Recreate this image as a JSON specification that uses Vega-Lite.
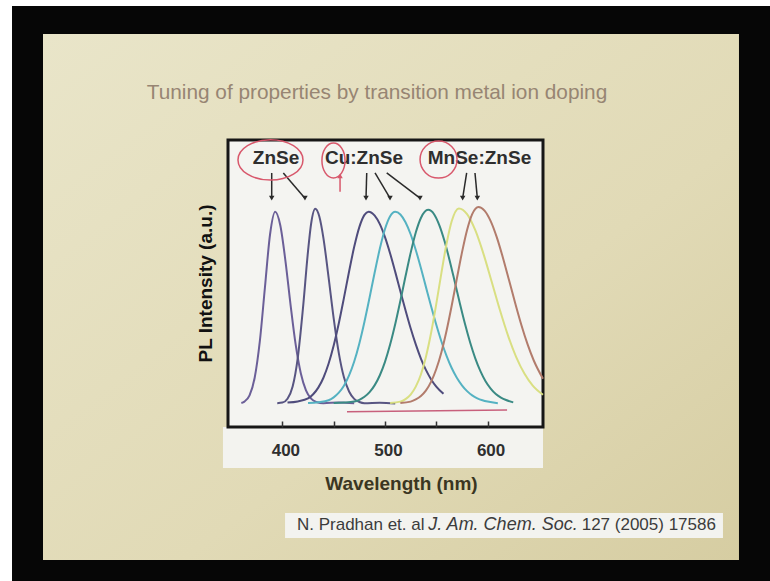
{
  "$schema": "https://vega.github.io/schema/vega-lite/v6.json",
  "width": 315,
  "height": 287,
  "autosize": {"type": "none"},
  "padding": {"left": 228, "top": 140, "right": 227, "bottom": 154},
  "background": "#ffffff",
  "config": {"view": {"stroke": null}, "font": "Liberation Sans"},
  "datasets": {
    "bg": [
      {"part": "outer", "wl": 136.5, "wl2": 904.5, "v": 2.051, "v2": -1.012},
      {"part": "slide", "wl": 166.7, "wl2": 845.0, "v": 1.907, "v2": -0.806},
      {"part": "panel", "wl": 342.1, "wl2": 654, "v": -0.12, "v2": -0.331},
      {"part": "panel", "wl": 402.6, "wl2": 829.4, "v": -0.5635, "v2": -0.692},
      {"part": "frame", "wl": 347, "wl2": 654, "v": -0.12, "v2": 1.36}
    ],
    "heading": [
      {"t": "Tuning of properties by transition metal ion doping", "wl": 492.2, "v": 1.6024}
    ],
    "underline": [
      {"wl": 463, "v": -0.041},
      {"wl": 619, "v": -0.032}
    ],
    "curves": [
      {"s": "ZnSe-1", "wl": 360, "v": 0.004}, {"s": "ZnSe-1", "wl": 363, "v": 0.011}, {"s": "ZnSe-1", "wl": 368, "v": 0.043}, {"s": "ZnSe-1", "wl": 373, "v": 0.134}, {"s": "ZnSe-1", "wl": 378, "v": 0.321}, {"s": "ZnSe-1", "wl": 383, "v": 0.600}, {"s": "ZnSe-1", "wl": 388, "v": 0.874}, {"s": "ZnSe-1", "wl": 393, "v": 0.990}, {"s": "ZnSe-1", "wl": 398, "v": 0.919}, {"s": "ZnSe-1", "wl": 403, "v": 0.736}, {"s": "ZnSe-1", "wl": 408, "v": 0.509}, {"s": "ZnSe-1", "wl": 413, "v": 0.303}, {"s": "ZnSe-1", "wl": 418, "v": 0.156}, {"s": "ZnSe-1", "wl": 423, "v": 0.069}, {"s": "ZnSe-1", "wl": 428, "v": 0.026}, {"s": "ZnSe-1", "wl": 433, "v": 0.009}, {"s": "ZnSe-1", "wl": 440, "v": 0.003}, {"s": "ZnSe-1", "wl": 455, "v": 0.006}, {"s": "ZnSe-1", "wl": 470, "v": 0.002},
      {"s": "ZnSe-2", "wl": 395, "v": 0.003}, {"s": "ZnSe-2", "wl": 400, "v": 0.006}, {"s": "ZnSe-2", "wl": 405, "v": 0.026}, {"s": "ZnSe-2", "wl": 410, "v": 0.089}, {"s": "ZnSe-2", "wl": 415, "v": 0.237}, {"s": "ZnSe-2", "wl": 420, "v": 0.489}, {"s": "ZnSe-2", "wl": 425, "v": 0.787}, {"s": "ZnSe-2", "wl": 428, "v": 0.928}, {"s": "ZnSe-2", "wl": 432, "v": 1.005}, {"s": "ZnSe-2", "wl": 436, "v": 0.965}, {"s": "ZnSe-2", "wl": 440, "v": 0.854}, {"s": "ZnSe-2", "wl": 445, "v": 0.653}, {"s": "ZnSe-2", "wl": 450, "v": 0.440}, {"s": "ZnSe-2", "wl": 455, "v": 0.261}, {"s": "ZnSe-2", "wl": 460, "v": 0.136}, {"s": "ZnSe-2", "wl": 465, "v": 0.063}, {"s": "ZnSe-2", "wl": 470, "v": 0.025}, {"s": "ZnSe-2", "wl": 475, "v": 0.009}, {"s": "ZnSe-2", "wl": 480, "v": 0.003}, {"s": "ZnSe-2", "wl": 495, "v": 0.005}, {"s": "ZnSe-2", "wl": 510, "v": 0.001},
      {"s": "Cu:ZnSe-1", "wl": 405, "v": 0.006}, {"s": "Cu:ZnSe-1", "wl": 415, "v": 0.012}, {"s": "Cu:ZnSe-1", "wl": 425, "v": 0.027}, {"s": "Cu:ZnSe-1", "wl": 430, "v": 0.049}, {"s": "Cu:ZnSe-1", "wl": 435, "v": 0.083}, {"s": "Cu:ZnSe-1", "wl": 440, "v": 0.134}, {"s": "Cu:ZnSe-1", "wl": 445, "v": 0.206}, {"s": "Cu:ZnSe-1", "wl": 450, "v": 0.300}, {"s": "Cu:ZnSe-1", "wl": 455, "v": 0.415}, {"s": "Cu:ZnSe-1", "wl": 460, "v": 0.546}, {"s": "Cu:ZnSe-1", "wl": 465, "v": 0.682}, {"s": "Cu:ZnSe-1", "wl": 470, "v": 0.809}, {"s": "Cu:ZnSe-1", "wl": 475, "v": 0.911}, {"s": "Cu:ZnSe-1", "wl": 480, "v": 0.974}, {"s": "Cu:ZnSe-1", "wl": 484, "v": 0.990}, {"s": "Cu:ZnSe-1", "wl": 490, "v": 0.970}, {"s": "Cu:ZnSe-1", "wl": 495, "v": 0.926}, {"s": "Cu:ZnSe-1", "wl": 500, "v": 0.859}, {"s": "Cu:ZnSe-1", "wl": 505, "v": 0.775}, {"s": "Cu:ZnSe-1", "wl": 510, "v": 0.680}, {"s": "Cu:ZnSe-1", "wl": 515, "v": 0.580}, {"s": "Cu:ZnSe-1", "wl": 520, "v": 0.482}, {"s": "Cu:ZnSe-1", "wl": 525, "v": 0.389}, {"s": "Cu:ZnSe-1", "wl": 530, "v": 0.306}, {"s": "Cu:ZnSe-1", "wl": 535, "v": 0.233}, {"s": "Cu:ZnSe-1", "wl": 540, "v": 0.173}, {"s": "Cu:ZnSe-1", "wl": 545, "v": 0.125}, {"s": "Cu:ZnSe-1", "wl": 550, "v": 0.088}, {"s": "Cu:ZnSe-1", "wl": 557, "v": 0.051},
      {"s": "Cu:ZnSe-2", "wl": 425, "v": 0.004}, {"s": "Cu:ZnSe-2", "wl": 435, "v": 0.008}, {"s": "Cu:ZnSe-2", "wl": 445, "v": 0.018}, {"s": "Cu:ZnSe-2", "wl": 450, "v": 0.033}, {"s": "Cu:ZnSe-2", "wl": 455, "v": 0.057}, {"s": "Cu:ZnSe-2", "wl": 460, "v": 0.093}, {"s": "Cu:ZnSe-2", "wl": 465, "v": 0.146}, {"s": "Cu:ZnSe-2", "wl": 470, "v": 0.218}, {"s": "Cu:ZnSe-2", "wl": 475, "v": 0.311}, {"s": "Cu:ZnSe-2", "wl": 480, "v": 0.423}, {"s": "Cu:ZnSe-2", "wl": 485, "v": 0.548}, {"s": "Cu:ZnSe-2", "wl": 490, "v": 0.678}, {"s": "Cu:ZnSe-2", "wl": 495, "v": 0.800}, {"s": "Cu:ZnSe-2", "wl": 500, "v": 0.901}, {"s": "Cu:ZnSe-2", "wl": 505, "v": 0.967}, {"s": "Cu:ZnSe-2", "wl": 510, "v": 0.990}, {"s": "Cu:ZnSe-2", "wl": 515, "v": 0.976}, {"s": "Cu:ZnSe-2", "wl": 520, "v": 0.936}, {"s": "Cu:ZnSe-2", "wl": 525, "v": 0.874}, {"s": "Cu:ZnSe-2", "wl": 530, "v": 0.793}, {"s": "Cu:ZnSe-2", "wl": 535, "v": 0.700}, {"s": "Cu:ZnSe-2", "wl": 540, "v": 0.600}, {"s": "Cu:ZnSe-2", "wl": 545, "v": 0.501}, {"s": "Cu:ZnSe-2", "wl": 550, "v": 0.407}, {"s": "Cu:ZnSe-2", "wl": 555, "v": 0.321}, {"s": "Cu:ZnSe-2", "wl": 560, "v": 0.247}, {"s": "Cu:ZnSe-2", "wl": 565, "v": 0.184}, {"s": "Cu:ZnSe-2", "wl": 570, "v": 0.134}, {"s": "Cu:ZnSe-2", "wl": 575, "v": 0.095}, {"s": "Cu:ZnSe-2", "wl": 580, "v": 0.065}, {"s": "Cu:ZnSe-2", "wl": 585, "v": 0.043}, {"s": "Cu:ZnSe-2", "wl": 590, "v": 0.028}, {"s": "Cu:ZnSe-2", "wl": 595, "v": 0.018}, {"s": "Cu:ZnSe-2", "wl": 600, "v": 0.011}, {"s": "Cu:ZnSe-2", "wl": 610, "v": 0.003},
      {"s": "Cu:ZnSe-3", "wl": 450, "v": 0.004}, {"s": "Cu:ZnSe-3", "wl": 460, "v": 0.006}, {"s": "Cu:ZnSe-3", "wl": 470, "v": 0.011}, {"s": "Cu:ZnSe-3", "wl": 475, "v": 0.020}, {"s": "Cu:ZnSe-3", "wl": 480, "v": 0.036}, {"s": "Cu:ZnSe-3", "wl": 485, "v": 0.060}, {"s": "Cu:ZnSe-3", "wl": 490, "v": 0.096}, {"s": "Cu:ZnSe-3", "wl": 495, "v": 0.147}, {"s": "Cu:ZnSe-3", "wl": 500, "v": 0.216}, {"s": "Cu:ZnSe-3", "wl": 505, "v": 0.305}, {"s": "Cu:ZnSe-3", "wl": 510, "v": 0.411}, {"s": "Cu:ZnSe-3", "wl": 515, "v": 0.531}, {"s": "Cu:ZnSe-3", "wl": 520, "v": 0.657}, {"s": "Cu:ZnSe-3", "wl": 525, "v": 0.778}, {"s": "Cu:ZnSe-3", "wl": 530, "v": 0.883}, {"s": "Cu:ZnSe-3", "wl": 535, "v": 0.958}, {"s": "Cu:ZnSe-3", "wl": 542, "v": 1.0}, {"s": "Cu:ZnSe-3", "wl": 548, "v": 0.976}, {"s": "Cu:ZnSe-3", "wl": 553, "v": 0.920}, {"s": "Cu:ZnSe-3", "wl": 558, "v": 0.839}, {"s": "Cu:ZnSe-3", "wl": 563, "v": 0.739}, {"s": "Cu:ZnSe-3", "wl": 568, "v": 0.629}, {"s": "Cu:ZnSe-3", "wl": 573, "v": 0.517}, {"s": "Cu:ZnSe-3", "wl": 578, "v": 0.411}, {"s": "Cu:ZnSe-3", "wl": 583, "v": 0.316}, {"s": "Cu:ZnSe-3", "wl": 588, "v": 0.234}, {"s": "Cu:ZnSe-3", "wl": 593, "v": 0.168}, {"s": "Cu:ZnSe-3", "wl": 598, "v": 0.116}, {"s": "Cu:ZnSe-3", "wl": 603, "v": 0.078}, {"s": "Cu:ZnSe-3", "wl": 608, "v": 0.050}, {"s": "Cu:ZnSe-3", "wl": 613, "v": 0.032}, {"s": "Cu:ZnSe-3", "wl": 618, "v": 0.019}, {"s": "Cu:ZnSe-3", "wl": 625, "v": 0.007},
      {"s": "MnSe:ZnSe-1", "wl": 505, "v": 0.004}, {"s": "MnSe:ZnSe-1", "wl": 515, "v": 0.011}, {"s": "MnSe:ZnSe-1", "wl": 520, "v": 0.024}, {"s": "MnSe:ZnSe-1", "wl": 525, "v": 0.047}, {"s": "MnSe:ZnSe-1", "wl": 530, "v": 0.088}, {"s": "MnSe:ZnSe-1", "wl": 535, "v": 0.151}, {"s": "MnSe:ZnSe-1", "wl": 540, "v": 0.244}, {"s": "MnSe:ZnSe-1", "wl": 545, "v": 0.367}, {"s": "MnSe:ZnSe-1", "wl": 550, "v": 0.515}, {"s": "MnSe:ZnSe-1", "wl": 555, "v": 0.675}, {"s": "MnSe:ZnSe-1", "wl": 560, "v": 0.825}, {"s": "MnSe:ZnSe-1", "wl": 565, "v": 0.941}, {"s": "MnSe:ZnSe-1", "wl": 572, "v": 1.007}, {"s": "MnSe:ZnSe-1", "wl": 580, "v": 0.978}, {"s": "MnSe:ZnSe-1", "wl": 588, "v": 0.895}, {"s": "MnSe:ZnSe-1", "wl": 596, "v": 0.773}, {"s": "MnSe:ZnSe-1", "wl": 604, "v": 0.629}, {"s": "MnSe:ZnSe-1", "wl": 612, "v": 0.483}, {"s": "MnSe:ZnSe-1", "wl": 620, "v": 0.350}, {"s": "MnSe:ZnSe-1", "wl": 628, "v": 0.239}, {"s": "MnSe:ZnSe-1", "wl": 636, "v": 0.154}, {"s": "MnSe:ZnSe-1", "wl": 644, "v": 0.093}, {"s": "MnSe:ZnSe-1", "wl": 654, "v": 0.046},
      {"s": "MnSe:ZnSe-2", "wl": 515, "v": 0.004}, {"s": "MnSe:ZnSe-2", "wl": 525, "v": 0.011}, {"s": "MnSe:ZnSe-2", "wl": 530, "v": 0.022}, {"s": "MnSe:ZnSe-2", "wl": 535, "v": 0.040}, {"s": "MnSe:ZnSe-2", "wl": 540, "v": 0.069}, {"s": "MnSe:ZnSe-2", "wl": 545, "v": 0.114}, {"s": "MnSe:ZnSe-2", "wl": 550, "v": 0.179}, {"s": "MnSe:ZnSe-2", "wl": 555, "v": 0.266}, {"s": "MnSe:ZnSe-2", "wl": 560, "v": 0.376}, {"s": "MnSe:ZnSe-2", "wl": 565, "v": 0.505}, {"s": "MnSe:ZnSe-2", "wl": 570, "v": 0.644}, {"s": "MnSe:ZnSe-2", "wl": 575, "v": 0.779}, {"s": "MnSe:ZnSe-2", "wl": 580, "v": 0.896}, {"s": "MnSe:ZnSe-2", "wl": 585, "v": 0.978}, {"s": "MnSe:ZnSe-2", "wl": 591, "v": 1.015}, {"s": "MnSe:ZnSe-2", "wl": 597, "v": 0.996}, {"s": "MnSe:ZnSe-2", "wl": 603, "v": 0.942}, {"s": "MnSe:ZnSe-2", "wl": 609, "v": 0.858}, {"s": "MnSe:ZnSe-2", "wl": 615, "v": 0.752}, {"s": "MnSe:ZnSe-2", "wl": 621, "v": 0.635}, {"s": "MnSe:ZnSe-2", "wl": 627, "v": 0.517}, {"s": "MnSe:ZnSe-2", "wl": 633, "v": 0.405}, {"s": "MnSe:ZnSe-2", "wl": 639, "v": 0.306}, {"s": "MnSe:ZnSe-2", "wl": 645, "v": 0.223}, {"s": "MnSe:ZnSe-2", "wl": 654, "v": 0.129}
    ],
    "arrows": [
      {"kind": "black", "wl": 389.6, "v": 1.19, "wl2": 389.6, "v2": 1.06},
      {"kind": "black", "wl": 400.9, "v": 1.19, "wl2": 422.0, "v2": 1.06},
      {"kind": "black", "wl": 482.2, "v": 1.19, "wl2": 481.5, "v2": 1.06},
      {"kind": "black", "wl": 490.3, "v": 1.19, "wl2": 504.9, "v2": 1.06},
      {"kind": "black", "wl": 501.7, "v": 1.19, "wl2": 534.1, "v2": 1.06},
      {"kind": "black", "wl": 579.6, "v": 1.19, "wl2": 575.7, "v2": 1.06},
      {"kind": "black", "wl": 587.7, "v": 1.19, "wl2": 590.0, "v2": 1.06},
      {"kind": "red", "wl": 456.2, "v": 1.093, "wl2": 456.2, "v2": 1.171}
    ],
    "heads": [
      {"kind": "black", "wl": 389.6, "v": 1.06},
      {"kind": "black", "wl": 422.0, "v": 1.06},
      {"kind": "black", "wl": 481.5, "v": 1.06},
      {"kind": "black", "wl": 504.9, "v": 1.06},
      {"kind": "black", "wl": 534.1, "v": 1.06},
      {"kind": "black", "wl": 575.7, "v": 1.06},
      {"kind": "black", "wl": 590.0, "v": 1.06},
      {"kind": "red", "wl": 456.2, "v": 1.175}
    ],
    "labels": [
      {"t": "ZnSe", "wl": 393.8, "v": 1.267},
      {"t": "Cu:ZnSe", "wl": 479.5, "v": 1.267},
      {"t": "MnSe:ZnSe", "wl": 592.1, "v": 1.267}
    ],
    "circles": [
      {"c": "ZnSe", "wl": 388.4, "v": 1.257},
      {"c": "Cu", "wl": 449.8, "v": 1.254},
      {"c": "MnSe", "wl": 552.2, "v": 1.259}
    ],
    "cite": [
      {"t": "N. Pradhan et. al", "style": "normal", "wl": 414.2, "v": -0.625},
      {"t": "J. Am. Chem. Soc.", "style": "italic", "wl": 542.2, "v": -0.625},
      {"t": "127 (2005) 17586", "style": "normal", "wl": 691.7, "v": -0.625}
    ]
  },
  "encoding": {
    "x": {
      "field": "wl", "type": "quantitative", "title": "Wavelength (nm)",
      "scale": {"domain": [347, 654], "nice": false, "zero": false},
      "axis": {
        "values": [400, 450, 500, 550, 600],
        "labelExpr": "datum.value % 100 === 0 ? datum.label : ''",
        "domain": false, "grid": false, "offset": -6,
        "ticks": true, "tickSize": 6, "tickColor": "#333333", "tickWidth": 1.5,
        "labelFontSize": 17, "labelFontWeight": "bold", "labelColor": "#2f2f2f",
        "labelPadding": 15, "labelOffset": 3,
        "titleFontSize": 19, "titleFontWeight": "bold", "titleColor": "#3a3622",
        "titleX": 173, "titleY": 62, "titleBaseline": "middle", "titleAlign": "center",
        "zindex": 1
      }
    },
    "y": {
      "field": "v", "type": "quantitative", "title": "PL Intensity (a.u.)",
      "scale": {"domain": [-0.12, 1.36], "nice": false, "zero": false},
      "axis": {
        "labels": false, "ticks": false, "domain": false, "grid": false,
        "titleFontSize": 19, "titleFontWeight": "bold", "titleColor": "#111111",
        "titleX": -23, "titleY": 143, "titleAngle": 270, "titleBaseline": "middle", "titleAlign": "center",
        "zindex": 1
      }
    }
  },
  "layer": [
    {"data": {"name": "bg"}, "transform": [{"filter": "datum.part === 'outer'"}],
     "mark": {"type": "rect", "fill": "#060606"},
     "encoding": {"x2": {"field": "wl2"}, "y2": {"field": "v2"}}},
    {"data": {"name": "bg"}, "transform": [{"filter": "datum.part === 'slide'"}],
     "mark": {"type": "rect", "fill": {"gradient": "linear", "x1": 0, "y1": 0, "x2": 1, "y2": 1,
       "stops": [{"offset": 0, "color": "#e9e5c9"}, {"offset": 0.6, "color": "#e1dab6"}, {"offset": 1, "color": "#d6cda2"}]}},
     "encoding": {"x2": {"field": "wl2"}, "y2": {"field": "v2"}}},
    {"data": {"name": "bg"}, "transform": [{"filter": "datum.part === 'panel'"}],
     "mark": {"type": "rect", "fill": "#f3f3ef"},
     "encoding": {"x2": {"field": "wl2"}, "y2": {"field": "v2"}}},
    {"data": {"name": "bg"}, "transform": [{"filter": "datum.part === 'frame'"}],
     "mark": {"type": "rect", "fill": "#f4f4f1", "stroke": "#161616", "strokeWidth": 3},
     "encoding": {"x2": {"field": "wl2"}, "y2": {"field": "v2"}}},
    {"data": {"name": "heading"},
     "mark": {"type": "text", "font": "Liberation Sans", "fontSize": 20.8, "color": "#978573", "align": "center", "baseline": "middle"},
     "encoding": {"text": {"field": "t"}}},
    {"data": {"name": "underline"},
     "mark": {"type": "line", "color": "#c8607c", "strokeWidth": 1.5},
     "encoding": {}},
    {"data": {"name": "curves"},
     "mark": {"type": "line", "interpolate": "monotone", "strokeWidth": 2},
     "encoding": {
       "color": {"field": "s", "type": "nominal", "legend": null,
         "scale": {"domain": ["ZnSe-1", "ZnSe-2", "Cu:ZnSe-1", "Cu:ZnSe-2", "Cu:ZnSe-3", "MnSe:ZnSe-1", "MnSe:ZnSe-2"],
                   "range": ["#6b5f98", "#585582", "#4f4c7c", "#55b2c2", "#3a8a84", "#d9df82", "#b27c6c"]}}
     }},
    {"data": {"name": "arrows"}, "transform": [{"filter": "datum.kind === 'black'"}],
     "mark": {"type": "rule", "color": "#2a2a2a", "strokeWidth": 1.5},
     "encoding": {"x2": {"field": "wl2"}, "y2": {"field": "v2"}}},
    {"data": {"name": "arrows"}, "transform": [{"filter": "datum.kind === 'red'"}],
     "mark": {"type": "rule", "color": "#d8586c", "strokeWidth": 1.5},
     "encoding": {"x2": {"field": "wl2"}, "y2": {"field": "v2"}}},
    {"data": {"name": "heads"}, "transform": [{"filter": "datum.kind === 'black'"}],
     "mark": {"type": "point", "shape": "triangle-down", "filled": true, "size": 30, "color": "#2a2a2a", "opacity": 1},
     "encoding": {}},
    {"data": {"name": "heads"}, "transform": [{"filter": "datum.kind === 'red'"}],
     "mark": {"type": "point", "shape": "triangle-up", "filled": true, "size": 30, "color": "#d8586c", "opacity": 1},
     "encoding": {}},
    {"data": {"name": "labels"},
     "mark": {"type": "text", "font": "Liberation Sans", "fontSize": 19, "fontWeight": "bold", "color": "#2e2e2e", "align": "center", "baseline": "middle"},
     "encoding": {"text": {"field": "t"}}},
    {"data": {"name": "circles"}, "transform": [{"filter": "datum.c === 'ZnSe'"}],
     "mark": {"type": "point", "filled": false, "stroke": "#d8586c", "strokeWidth": 1.5, "opacity": 1, "size": 4225,
              "shape": "M -1 0 A 1 0.62 0 1 0 1 0 A 1 0.62 0 1 0 -1 0 Z"},
     "encoding": {}},
    {"data": {"name": "circles"}, "transform": [{"filter": "datum.c === 'Cu'"}],
     "mark": {"type": "point", "filled": false, "stroke": "#d8586c", "strokeWidth": 1.5, "opacity": 1, "size": 1225,
              "shape": "M -0.66 0 A 0.66 1 0 1 0 0.66 0 A 0.66 1 0 1 0 -0.66 0 Z"},
     "encoding": {}},
    {"data": {"name": "circles"}, "transform": [{"filter": "datum.c === 'MnSe'"}],
     "mark": {"type": "point", "filled": false, "stroke": "#d8586c", "strokeWidth": 1.5, "opacity": 1, "size": 1369, "shape": "circle"},
     "encoding": {}},
    {"data": {"name": "cite"}, "transform": [{"filter": "datum.style === 'normal'"}],
     "mark": {"type": "text", "font": "Liberation Sans", "fontSize": 17, "color": "#3c3c3c", "align": "left", "baseline": "middle"},
     "encoding": {"text": {"field": "t"}}},
    {"data": {"name": "cite"}, "transform": [{"filter": "datum.style === 'italic'"}],
     "mark": {"type": "text", "font": "Liberation Sans", "fontSize": 18, "fontStyle": "italic", "color": "#3c3c3c", "align": "left", "baseline": "middle"},
     "encoding": {"text": {"field": "t"}}}
  ]
}
